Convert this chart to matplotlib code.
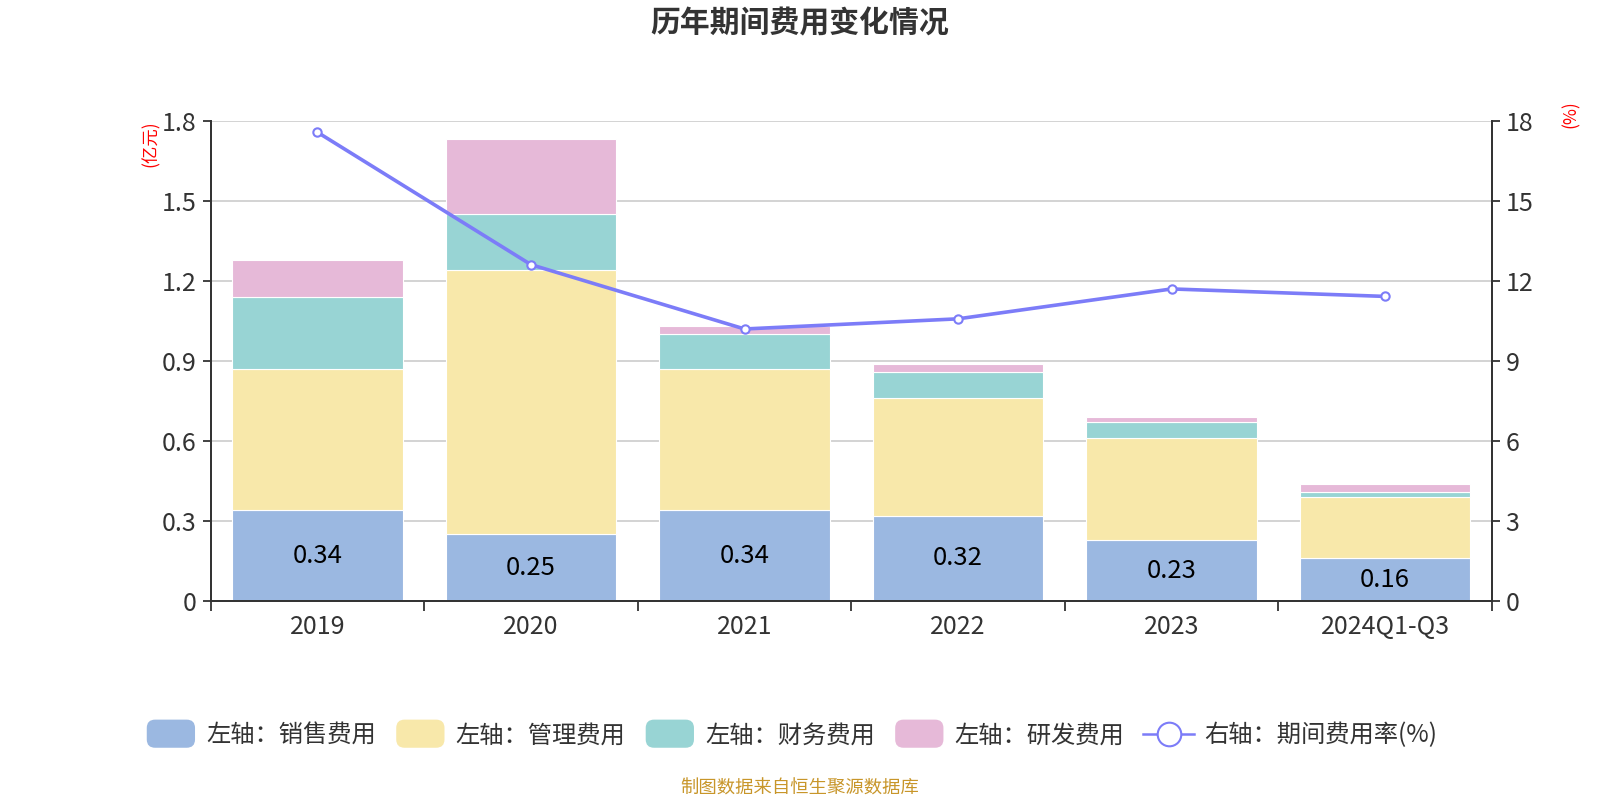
import numpy as np
import matplotlib
matplotlib.use("Agg")
import matplotlib.pyplot as plt
from matplotlib.patches import FancyBboxPatch
from matplotlib.lines import Line2D
from matplotlib.legend_handler import HandlerPatch

plt.rcParams['font.family'] = ['Noto Sans CJK SC', 'DejaVu Sans']

# data
years = ['2019', '2020', '2021', '2022', '2023', '2024Q1-Q3']
sales = [0.34, 0.25, 0.34, 0.32, 0.23, 0.16]
admin = [0.53, 0.99, 0.53, 0.44, 0.38, 0.23]
finance = [0.27, 0.21, 0.13, 0.10, 0.06, 0.02]
rnd = [0.14, 0.28, 0.03, 0.03, 0.02, 0.03]
rate = [17.57, 12.61, 10.20, 10.58, 11.70, 11.42]

series_names = ['左轴：销售费用', '左轴：管理费用', '左轴：财务费用', '左轴：研发费用']
line_name = '右轴：期间费用率(%)'
colors = ['#9BB8E1', '#F8E8AA', '#98D4D4', '#E6B9D8']
line_color = '#7C7CF8'
text_color = '#333333'

fig = plt.figure(figsize=(16, 8), dpi=100)
ax = fig.add_axes([0.1317, 0.2485, 0.8007, 0.6005])
ax2 = ax.twinx()

x = np.arange(len(years))
bottom = np.zeros(len(years))
for vals, c in zip([sales, admin, finance, rnd], colors):
    ax.bar(x, vals, width=0.8, bottom=bottom, color=c, edgecolor='white',
           linewidth=0.8, zorder=2)
    bottom += np.array(vals)

for xi, v in zip(x, sales):
    ax.text(xi, v / 2, f'{v:.2f}', ha='center', va='center', fontsize=18.5,
            color='black', zorder=4)

ax2.plot(x, rate, color=line_color, linewidth=2.6, marker='o', markersize=6,
         markerfacecolor='white', markeredgecolor=line_color,
         markeredgewidth=1.5, zorder=5)

ax.set_xlim(-0.5, 5.5)
ax.set_ylim(0, 1.8)
ax2.set_ylim(0, 18)
ax.set_yticks(np.arange(0, 1.81, 0.3))
ax.set_yticklabels(['0', '0.3', '0.6', '0.9', '1.2', '1.5', '1.8'])
ax2.set_yticks(np.arange(0, 19, 3))
ax.yaxis.grid(True, color='#CCCCCC', linewidth=1.2, zorder=0)
ax.set_axisbelow(True)

ax.set_xticks(np.arange(-0.5, 6, 1))
ax.set_xticklabels([])
ax.set_xticks(x, minor=True)
ax.set_xticklabels(years, minor=True)
ax.tick_params(axis='x', which='major', length=7, width=1.3, color=text_color)
ax.tick_params(axis='x', which='minor', length=0, pad=9, labelsize=18,
               labelcolor=text_color)
ax.tick_params(axis='y', length=6, width=1.3, color=text_color, labelsize=18,
               labelcolor=text_color, pad=4)
ax2.tick_params(axis='y', length=6, width=1.3, color=text_color, labelsize=18,
                labelcolor=text_color, pad=4)

for a in (ax, ax2):
    a.spines['top'].set_visible(False)
    for s in ('left', 'right', 'bottom'):
        a.spines[s].set_color(text_color)
        a.spines[s].set_linewidth(1.3)

fig.text(0.094, 0.82, '(亿元)', rotation=90, color='red', fontsize=12.5,
         ha='center', va='center')
fig.text(0.982, 0.857, '(%)', rotation=90, color='red', fontsize=12.5,
         ha='center', va='center')

fig.text(0.5, 0.971, '历年期间费用变化情况', ha='center', va='center',
         fontsize=21.5, fontweight='bold', color=text_color)
fig.text(0.5, 0.014, '制图数据来自恒生聚源数据库', ha='center', va='center',
         fontsize=13.2, color='#C8962A')


class RoundHandler(HandlerPatch):
    def create_artists(self, legend, orig_handle, xdescent, ydescent, width,
                       height, fontsize, trans):
        p = FancyBboxPatch((-xdescent + 1, -ydescent - 4), width - 2, height + 8,
                           boxstyle='round,pad=0,rounding_size=6',
                           facecolor=orig_handle.get_facecolor(),
                           edgecolor='none', transform=trans)
        return [p]


handles = [FancyBboxPatch((0, 0), 1, 1, facecolor=c) for c in colors]
line_handle = Line2D([], [], color=line_color, linewidth=1.8, marker='o',
                     markersize=17, markerfacecolor='white',
                     markeredgecolor=line_color, markeredgewidth=1.5)
leg = fig.legend(handles + [line_handle], series_names + [line_name],
                 loc='center', bbox_to_anchor=(0.4945, 0.081), ncol=5,
                 frameon=False, fontsize=17.5, handlelength=2.1,
                 handletextpad=0.4, columnspacing=0.78,
                 handler_map={FancyBboxPatch: RoundHandler()})
for t in leg.get_texts():
    t.set_color(text_color)

fig.savefig('out.png', dpi=100)
